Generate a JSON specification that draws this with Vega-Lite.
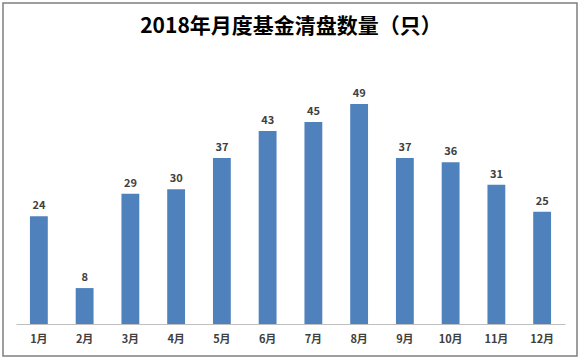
{
  "$schema": "https://vega.github.io/schema/vega-lite/v6.json",
  "width": 574,
  "height": 353,
  "autosize": {"type": "none"},
  "padding": {"left": 3, "top": 3, "right": 3, "bottom": 3},
  "background": "white",
  "config": {
    "view": {"stroke": "#7f7f7f", "strokeWidth": 1.5},
    "font": "Noto Sans CJK SC"
  },
  "data": {
    "values": [
      {"month": "1月", "count": 24},
      {"month": "2月", "count": 8},
      {"month": "3月", "count": 29},
      {"month": "4月", "count": 30},
      {"month": "5月", "count": 37},
      {"month": "6月", "count": 43},
      {"month": "7月", "count": 45},
      {"month": "8月", "count": 49},
      {"month": "9月", "count": 37},
      {"month": "10月", "count": 36},
      {"month": "11月", "count": 31},
      {"month": "12月", "count": 25}
    ]
  },
  "encoding": {
    "y": {
      "field": "count",
      "type": "quantitative",
      "scale": {"domain": [-7.13, 71.5], "nice": false, "zero": false},
      "axis": null
    }
  },
  "layer": [
    {
      "mark": {"type": "bar", "color": "#4F81BD", "y2": {"expr": "scale('y', 0)"}},
      "encoding": {
        "x": {
          "field": "month",
          "type": "ordinal",
          "sort": null,
          "scale": {"range": [13, 562], "paddingInner": 0.61, "paddingOuter": 0.305},
          "axis": {
            "orient": "bottom",
            "title": null,
            "offset": -32,
            "ticks": false,
            "labelAngle": 0,
            "labelPadding": 9,
            "labelFontSize": 11,
            "labelFontWeight": "bold",
            "labelColor": "#404040",
            "domainColor": "#bfbfbf",
            "domainWidth": 1,
            "grid": false
          }
        }
      }
    },
    {
      "mark": {"type": "text", "baseline": "bottom", "dy": -5, "fontSize": 11, "fontWeight": "bold", "color": "#404040"},
      "encoding": {
        "x": {
          "field": "month",
          "type": "ordinal",
          "sort": null,
          "axis": {
            "orient": "top",
            "title": "2018年月度基金清盘数量（只）",
            "titleFont": "Noto Sans CJK SC",
            "titleFontSize": 21,
            "titleFontWeight": "bold",
            "titleColor": "#000000",
            "titleBaseline": "middle",
            "titlePadding": 0,
            "offset": -23.5,
            "labels": false,
            "ticks": false,
            "domain": false,
            "grid": false
          }
        },
        "text": {"field": "count", "type": "quantitative"}
      }
    }
  ]
}
